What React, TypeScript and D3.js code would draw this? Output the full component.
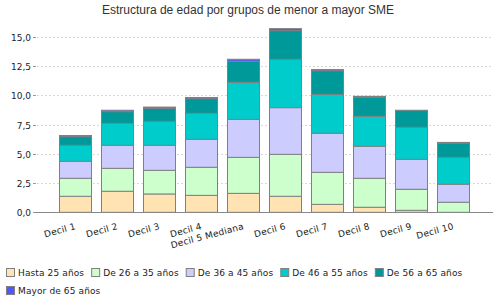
import React, { useEffect, useRef } from "react";
import * as d3 from "d3";

const deciles = ["Decil 1", "Decil 2", "Decil 3", "Decil 4", "Decil 5 Mediana", "Decil 6", "Decil 7", "Decil 8", "Decil 9", "Decil 10"];
const grupos = ["Hasta 25 años", "De 26 a 35 años", "De 36 a 45 años", "De 46 a 55 años", "De 56 a 65 años", "Mayor de 65 años"];
const colores = ["#FFE3B3", "#CCFFCC", "#CCCCFF", "#00CCCC", "#009999", "#5555FF"];

const hasta25 = [1.37, 1.8, 1.57, 1.45, 1.62, 1.37, 0.68, 0.43, 0.17, 0.0];
const de26a35 = [1.54, 1.96, 2.02, 2.4, 3.08, 3.59, 2.74, 2.48, 1.8, 0.86];
const de36a45 = [1.45, 1.97, 2.14, 2.39, 3.25, 3.99, 3.34, 2.74, 2.56, 1.54];
const de46a55 = [1.37, 1.88, 2.05, 2.23, 3.17, 4.14, 3.33, 2.56, 2.74, 2.3];
const de56a65 = [0.74, 1.0, 1.12, 1.25, 1.8, 2.45, 2.02, 1.63, 1.46, 1.2];
const mayor65 = [0.1, 0.12, 0.1, 0.1, 0.17, 0.17, 0.1, 0.08, 0.0, 0.08];

const series = [hasta25, de26a35, de36a45, de46a55, de56a65, mayor65];
const yTicks = [0, 2.5, 5, 7.5, 10, 12.5, 15];

const W = 500;
const H = 300;

export default function App() {
  const ref = useRef<SVGSVGElement>(null);

  useEffect(() => {
    const svg = d3.select(ref.current);
    svg.selectAll("*").remove();

    const x = d3
      .scaleBand()
      .domain(deciles)
      .range([54.3, 474.3])
      .paddingInner(0.238)
      .paddingOuter(0.119);
    const y = d3.scaleLinear().domain([0, 16.5]).range([212.3, 19.4]);

    const rows = deciles.map((d, i) => {
      const r: any = { decil: d };
      grupos.forEach((g, j) => (r[g] = series[j][i]));
      return r;
    });
    const stacked = d3.stack().keys(grupos)(rows);

    svg
      .append("text")
      .attr("x", 248)
      .attr("y", 14)
      .attr("text-anchor", "middle")
      .attr("font-family", "Liberation Sans, Arial, sans-serif")
      .attr("font-size", 12)
      .attr("fill", "#333")
      .text("Estructura de edad por grupos de menor a mayor SME");

    // grid + y labels
    const g = svg.append("g");
    yTicks.forEach((t) => {
      const yy = Math.round(y(t)) + 0.5;
      if (t > 0) {
        g.append("line")
          .attr("x1", 37)
          .attr("x2", 493)
          .attr("y1", yy)
          .attr("y2", yy)
          .attr("stroke", "#d8d8d8")
          .attr("stroke-dasharray", "2,2");
      }
      g.append("line")
        .attr("x1", 33)
        .attr("x2", 36)
        .attr("y1", yy)
        .attr("y2", yy)
        .attr("stroke", "#999");
      g.append("text")
        .attr("x", 31)
        .attr("y", yy)
        .attr("dy", "0.35em")
        .attr("text-anchor", "end")
        .attr("font-family", "DejaVu Sans, sans-serif")
        .attr("font-size", 9)
        .attr("fill", "#222")
        .text(d3.format(".1f")(t).replace(".", ","));
    });

    // bars
    svg
      .append("g")
      .selectAll("g")
      .data(stacked)
      .join("g")
      .attr("fill", (_d, i) => colores[i])
      .selectAll("rect")
      .data((d) => d.filter((s) => s[1] - s[0] > 0))
      .join("rect")
      .attr("x", (d: any) => Math.round(x(d.data.decil)!) + 0.5)
      .attr("y", (d) => y(d[1]))
      .attr("width", Math.round(x.bandwidth()))
      .attr("height", (d) => Math.max(0, y(d[0]) - y(d[1])))
      .attr("stroke", "#808080")
      .attr("stroke-width", 1);

    // x axis line
    svg
      .append("line")
      .attr("x1", 35)
      .attr("x2", 493)
      .attr("y1", 212.5)
      .attr("y2", 212.5)
      .attr("stroke", "#888");

    // x labels
    svg
      .append("g")
      .selectAll("text")
      .data(deciles)
      .join("text")
      .attr("transform", (d) => `translate(${x(d)! + x.bandwidth() / 2 + 1},229) rotate(-15)`)
      .attr("text-anchor", "end")
      .attr("font-family", "DejaVu Sans, sans-serif")
      .attr("font-size", 9)
      .attr("letter-spacing", 0.2)
      .attr("fill", "#222")
      .text((d) => d);

    // legend
    const leg = svg
      .append("g")
      .attr("font-family", "DejaVu Sans, sans-serif")
      .attr("font-size", 9)
      .attr("letter-spacing", 0.12);
    let lx = 6;
    let ly = 268;
    grupos.forEach((name, i) => {
      if (i === 5) {
        lx = 6;
        ly = 286;
      }
      const item = leg.append("g").attr("transform", `translate(${lx},${ly})`);
      item
        .append("rect")
        .attr("x", 0.5)
        .attr("y", 0.5)
        .attr("width", 8)
        .attr("height", 8)
        .attr("fill", colores[i])
        .attr("stroke", "#808080");
      const t = item
        .append("text")
        .attr("x", 12)
        .attr("y", 4.5)
        .attr("dy", "0.35em")
        .attr("fill", "#222")
        .text(name);
      const w = (t.node() as SVGTextElement).getComputedTextLength();
      lx += 12 + w + 7;
    });
  }, []);

  return (
    <div style={{ position: "absolute", left: 0, top: 0 }}>
      <svg ref={ref} width={W} height={H} style={{ display: "block", background: "#fff" }} />
    </div>
  );
}
